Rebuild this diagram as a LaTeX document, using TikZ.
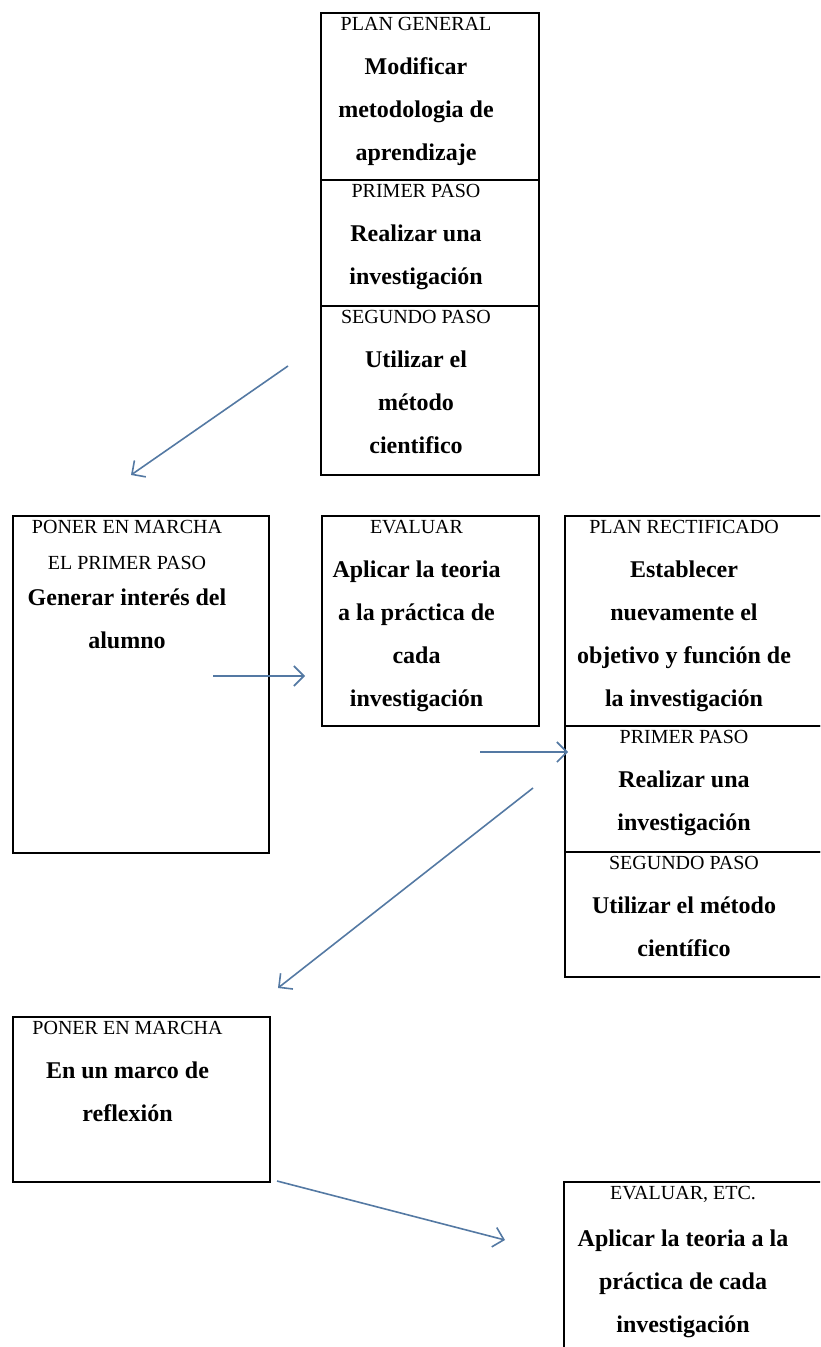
\documentclass[tikz,border=0pt]{standalone}
\usepackage{fontspec}
\setmainfont{Liberation Serif}
\usetikzlibrary{arrows.meta,positioning}
\definecolor{azulflecha}{RGB}{84,121,163}

\begin{document}
\begin{tikzpicture}[x=0.5pt,y=-0.5pt,>={Straight Barb[length=5pt,width=10pt]},
                    semithick]
  \tikzstyle{caja}=[draw,line width=1pt,rectangle,outer sep=0pt,inner sep=0pt,
                    anchor=north west]
  \tikzstyle{titulo}=[font=\fontsize{10}{18}\selectfont,inner sep=0pt,align=center]
  \tikzstyle{texto}=[font=\fontsize{12}{21.5}\selectfont\bfseries,inner sep=0pt,
                     align=center]
  \tikzstyle{flecha}=[->,draw=azulflecha,line width=0.8pt]

  \useasboundingbox (0,0) rectangle (820,1347);
  \clip (0,0) rectangle (820,1347);

  \node[caja,minimum width=109pt,minimum height=83.5pt] (pg) at (321,13) {};
  \node[caja,minimum width=109pt,minimum height=63pt]   (pp1) [below=0pt of pg]  {};
  \node[caja,minimum width=109pt,minimum height=84.5pt] (sp1) [below=0pt of pp1] {};

  \node[caja,minimum width=128pt,minimum height=168.5pt] (pm1) at (13,516)  {};
  \node[caja,minimum width=108.5pt,minimum height=105pt] (ev1) at (322,516) {};

  \node[caja,minimum width=133pt,minimum height=105pt]  (pr)  at (565,516) {};
  \node[caja,minimum width=133pt,minimum height=63pt]   (pp2) [below=0pt of pr]  {};
  \node[caja,minimum width=133pt,minimum height=62.5pt] (sp2) [below=0pt of pp2] {};

  \node[caja,minimum width=128.5pt,minimum height=82.5pt] (pm2) at (13,1017)  {};
  \node[caja,minimum width=133pt,minimum height=100pt]    (ev2) at (564,1182) {};

  \node[titulo] (pgT)  [below=2pt of pg.north,xshift=-7pt]  {PLAN GENERAL};
  \node[texto]  (pgB)  [below=12.8pt of pgT] {Modificar\\metodologia de\\aprendizaje};
  \node[titulo] (pp1T) [below=2pt of pp1.north,xshift=-7pt] {PRIMER PASO};
  \node[texto]  (pp1B) [below=12.8pt of pp1T] {Realizar una\\investigación};
  \node[titulo] (sp1T) [below=2pt of sp1.north,xshift=-7pt] {SEGUNDO PASO};
  \node[texto]  (sp1B) [below=12.8pt of sp1T] {Utilizar el\\método\\cientifico};

  \node[titulo] (pm1T) [below=2pt of pm1.north,xshift=-7pt] {PONER EN MARCHA\\EL PRIMER PASO};
  \node[texto]  (pm1B) [below=9pt of pm1T] {Generar interés del\\alumno};
  \node[titulo] (ev1T) [below=2pt of ev1.north,xshift=-7pt] {EVALUAR};
  \node[texto]  (ev1B) [below=12.8pt of ev1T] {Aplicar la teoria\\a la práctica de\\cada\\investigación};

  \node[titulo] (prT)  [below=2pt of pr.north,xshift=-7pt]  {PLAN RECTIFICADO};
  \node[texto]  (prB)  [below=12.8pt of prT] {Establecer\\nuevamente el\\objetivo y función de\\la investigación};
  \node[titulo] (pp2T) [below=2pt of pp2.north,xshift=-7pt] {PRIMER PASO};
  \node[texto]  (pp2B) [below=12.8pt of pp2T] {Realizar una\\investigación};
  \node[titulo] (sp2T) [below=2pt of sp2.north,xshift=-7pt] {SEGUNDO PASO};
  \node[texto]  (sp2B) [below=12.8pt of sp2T] {Utilizar el método\\científico};

  \node[titulo] (pm2T) [below=2pt of pm2.north,xshift=-7pt] {PONER EN MARCHA};
  \node[texto]  (pm2B) [below=12.8pt of pm2T] {En un marco de\\reflexión};
  \node[titulo] (ev2T) [below=2pt of ev2.north,xshift=-7pt] {EVALUAR, ETC.};
  \node[texto]  (ev2B) [below=12.8pt of ev2T] {Aplicar la teoria a la\\práctica de cada\\investigación};

  \coordinate (a1s) at (288,366);  \coordinate (a1e) at (131,475);
  \coordinate (a2s) at (213,676);  \coordinate (a2e) at (305,676);
  \coordinate (a3s) at (480,752);  \coordinate (a3e) at (568,752);
  \coordinate (a4s) at (533,788);  \coordinate (a4e) at (278,988);
  \coordinate (a5s) at (277,1181); \coordinate (a5e) at (505,1240);

  \path (a1s) edge[flecha] (a1e)
        (a2s) edge[flecha] (a2e)
        (a3s) edge[flecha] (a3e)
        (a4s) edge[flecha] (a4e)
        (a5s) edge[flecha] (a5e);
\end{tikzpicture}
\end{document}
